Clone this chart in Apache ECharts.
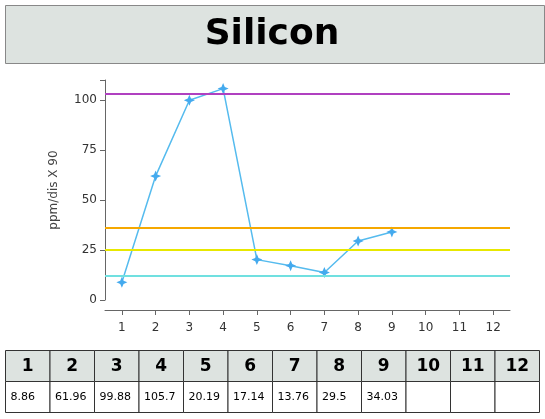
<!DOCTYPE html>
<html><head><meta charset="utf-8">
<script src="https://cdn.jsdelivr.net/npm/echarts@6/dist/echarts.min.js"></script>
<style>html,body{margin:0;padding:0;background:#fff}#c{width:545px;height:419px}</style>
</head><body><div id="c"></div>
<script>
const categories = ['1','2','3','4','5','6','7','8','9','10','11','12'];
const values = [8.86, 61.96, 99.88, 105.7, 20.19, 17.14, 13.76, 29.5, 34.03, null, null, null];
const limits = [103, 36, 25, 12];
const limitColors = ['#b040c0', '#f5a800', '#e8e800', '#70e0e0'];
const tableLabels = ['8.86','61.96','99.88','105.7','20.19','17.14','13.76','29.5','34.03','','',''];

const chart = echarts.init(document.getElementById('c'));
const graphic = [
  {type:'rect', shape:{x:5.5,y:5.5,width:539,height:58}, style:{fill:'#dde3e0', stroke:'#888', lineWidth:1}},
  {type:'text', x:272, y:35, style:{text:'Silicon', font:'bold 36px "DejaVu Sans"', fill:'#000', align:'center', verticalAlign:'middle'}}
];
const tx = 5.5, tw = 534/12, ty = 350.5, rh = 31;
categories.forEach((c,i)=>{
  graphic.push({type:'rect', shape:{x:tx+i*tw,y:ty,width:tw,height:rh}, style:{fill:'#dde3e0',stroke:'#333',lineWidth:1}});
  graphic.push({type:'rect', shape:{x:tx+i*tw,y:ty+rh,width:tw,height:rh}, style:{fill:'#fff',stroke:'#333',lineWidth:1}});
  graphic.push({type:'text', x:tx+i*tw+tw/2, y:ty+rh/2+1, style:{text:c, font:'bold 17px "DejaVu Sans"', fill:'#000', align:'center', verticalAlign:'middle'}});
  graphic.push({type:'text', x:tx+i*tw+5, y:ty+rh*1.5, style:{text:tableLabels[i], font:'11px "DejaVu Sans"', fill:'#000', align:'left', verticalAlign:'middle'}});
});
chart.setOption({
  animation:false,
  graphic: graphic,
  grid:{left:105, right:35, top:80, bottom:119},
  xAxis:{type:'category', data:categories, boundaryGap:true, offset:10,
    axisLine:{onZero:false, lineStyle:{color:'#666'}}, axisTick:{show:true, alignWithLabel:true, lineStyle:{color:'#666'}},
    axisLabel:{color:'#333', fontSize:12, fontFamily:'DejaVu Sans', margin:12}},
  yAxis:{type:'value', min:0, max:110, interval:25, name:'ppm/dis X 90', nameLocation:'middle', nameGap:45,
    nameTextStyle:{color:'#444', fontSize:12, fontFamily:'DejaVu Sans'},
    axisLine:{show:true, lineStyle:{color:'#666'}}, axisTick:{show:true, lineStyle:{color:'#666'}},
    axisLabel:{color:'#333', fontSize:12, fontFamily:'DejaVu Sans', formatter:v=>v%25===0?v:''}, splitLine:{show:false}},
  series:[{type:'line', data:values, connectNulls:false,
    symbol:'path://M0,-1L0.3,-0.3L1,0L0.3,0.3L0,1L-0.3,0.3L-1,0L-0.3,-0.3Z', symbolSize:11,
    lineStyle:{color:'#55bbee', width:1.5}, itemStyle:{color:'#44aaee'},
    markLine:{silent:true, symbol:'none', label:{show:false},
      data: limits.map((v,i)=>({yAxis:v, lineStyle:{color:limitColors[i], width:2, type:'solid'}}))}
  }]
});
</script></body></html>
